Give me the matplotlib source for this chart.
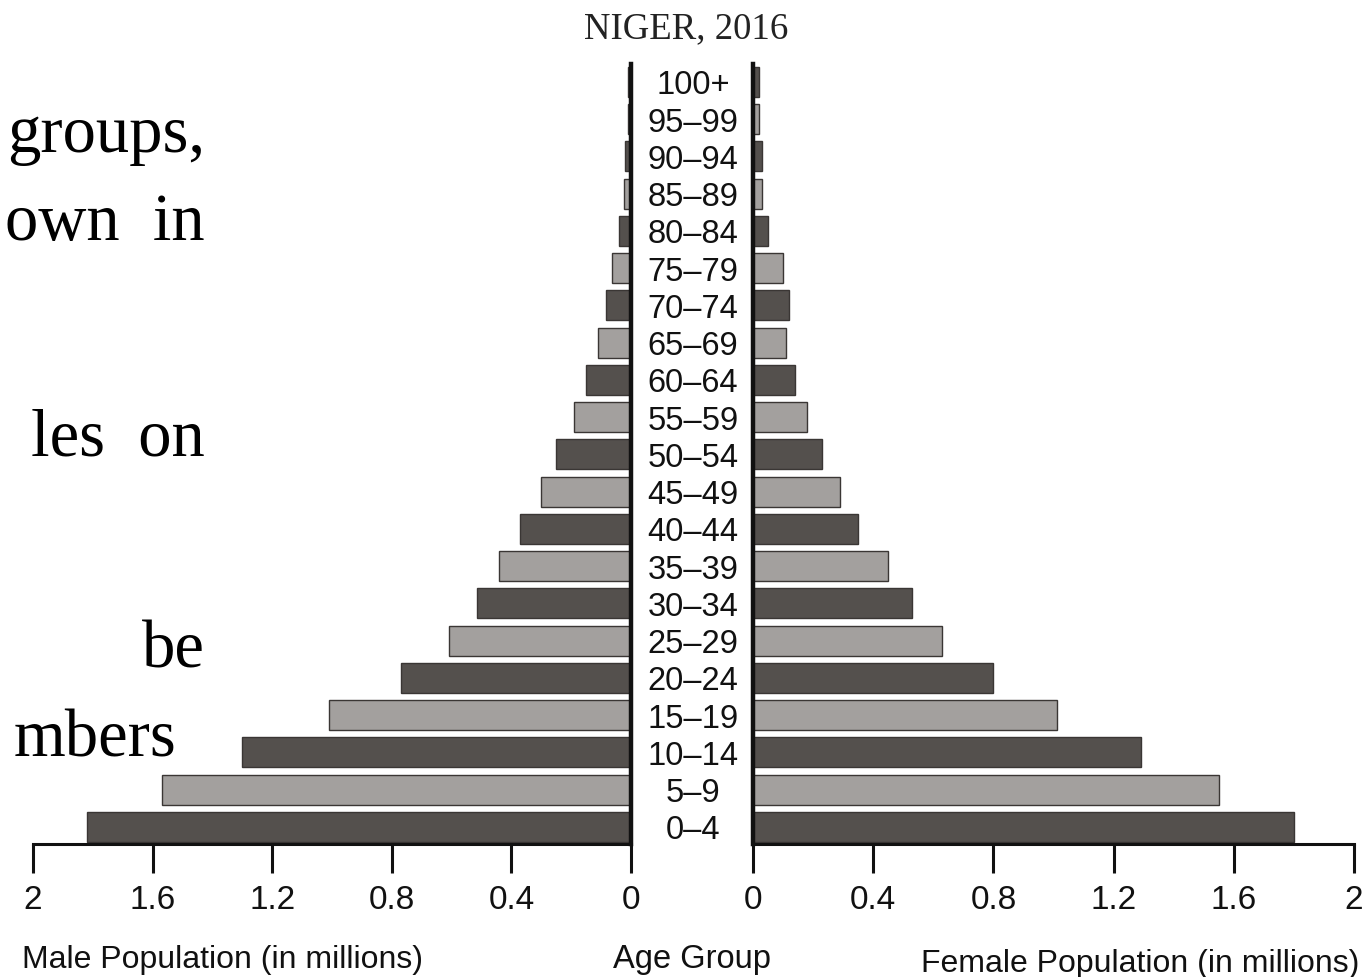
import matplotlib
matplotlib.use("Agg")
import matplotlib.pyplot as plt
from matplotlib import transforms

# ── Data (millions) ──────────────────────────────────────────────────────────
age_groups = ["0–4", "5–9", "10–14", "15–19", "20–24", "25–29", "30–34",
              "35–39", "40–44", "45–49", "50–54", "55–59", "60–64", "65–69",
              "70–74", "75–79", "80–84", "85–89", "90–94", "95–99", "100+"]
male = [1.82, 1.57, 1.30, 1.01, 0.77, 0.61, 0.515, 0.44, 0.37, 0.30, 0.25,
        0.19, 0.15, 0.11, 0.085, 0.065, 0.04, 0.025, 0.02, 0.01, 0.01]
female = [1.80, 1.55, 1.29, 1.01, 0.80, 0.63, 0.53, 0.45, 0.35, 0.29, 0.23,
          0.18, 0.14, 0.11, 0.12, 0.10, 0.05, 0.03, 0.03, 0.02, 0.02]
ticks = [0, 0.4, 0.8, 1.2, 1.6, 2]
tick_labels = ["0", "0.4", "0.8", "1.2", "1.6", "2"]
# justified paragraph, cut at the page edge
side_text = [("groups,", 205, 152), ("own  in", 205, 240), ("les  on", 205, 455),
             ("be", 205, 668), ("mbers", 176, 757)]

DARK = "#54504d"
LIGHT = "#a3a09e"
EDGE = "#3a3634"
SANS = "Liberation Sans"

W, H = 1368, 978
fig = plt.figure(figsize=(W / 100, H / 100), dpi=100, facecolor="white")

ybot, ytop = 845, 65
axL = fig.add_axes([33 / W, 1 - ybot / H, (631 - 33) / W, (ybot - ytop) / H])
axR = fig.add_axes([753 / W, 1 - ybot / H, (1354 - 753) / W, (ybot - ytop) / H])

ypos = list(range(len(age_groups)))
colors = [DARK if i % 2 == 0 else LIGHT for i in ypos]

axL.barh(ypos, male, height=0.8, color=colors, edgecolor=EDGE, linewidth=1)
axR.barh(ypos, female, height=0.8, color=colors, edgecolor=EDGE, linewidth=1)

for ax, inner in ((axL, "right"), (axR, "left")):
    ax.set_ylim(-0.46, 20.48)
    ax.set_yticks([])
    ax.set_xticks(ticks)
    ax.set_xticklabels(tick_labels, fontsize=24, family=SANS)
    ax.tick_params(axis="x", direction="out", length=21, width=2.2,
                   pad=8, color="#111111", labelcolor="#111111")
    for name, sp in ax.spines.items():
        sp.set_color("#111111")
        if name == inner:
            sp.set_linewidth(3.2)
        elif name == "bottom":
            sp.set_linewidth(2.2)
        else:
            sp.set_visible(False)

axL.set_xlim(2, 0)
axR.set_xlim(0, 2)

# age group labels between the two halves
trans = transforms.blended_transform_factory(fig.transFigure, axL.transData)
for i, lab in enumerate(age_groups):
    axL.text(693 / W, i - 0.08, lab, transform=trans, ha="center", va="center",
             fontsize=23.5, family=SANS, color="#111111", clip_on=False)

fig.text(686 / W, 1 - 38 / H, "NIGER, 2016", ha="center", va="baseline",
         fontsize=26.5, family="Liberation Serif", color="#222222")
fig.text(223 / W, 1 - 968 / H, "Male Population (in millions)", ha="center",
         va="baseline", fontsize=23, family=SANS, color="#111111")
fig.text(692 / W, 1 - 968 / H, "Age Group", ha="center", va="baseline",
         fontsize=23.5, family=SANS, color="#111111")
fig.text(1140 / W, 1 - 972 / H, "Female Population (in millions)", ha="center",
         va="baseline", fontsize=23, family=SANS, color="#111111")

# paragraph fragments at the left
for txt, xr, yb in side_text:
    fig.text(xr / W, 1 - yb / H, txt, ha="right", va="baseline",
             fontsize=48, family="Liberation Serif", color="black")

fig.savefig("out.png", dpi=100, facecolor="white")
